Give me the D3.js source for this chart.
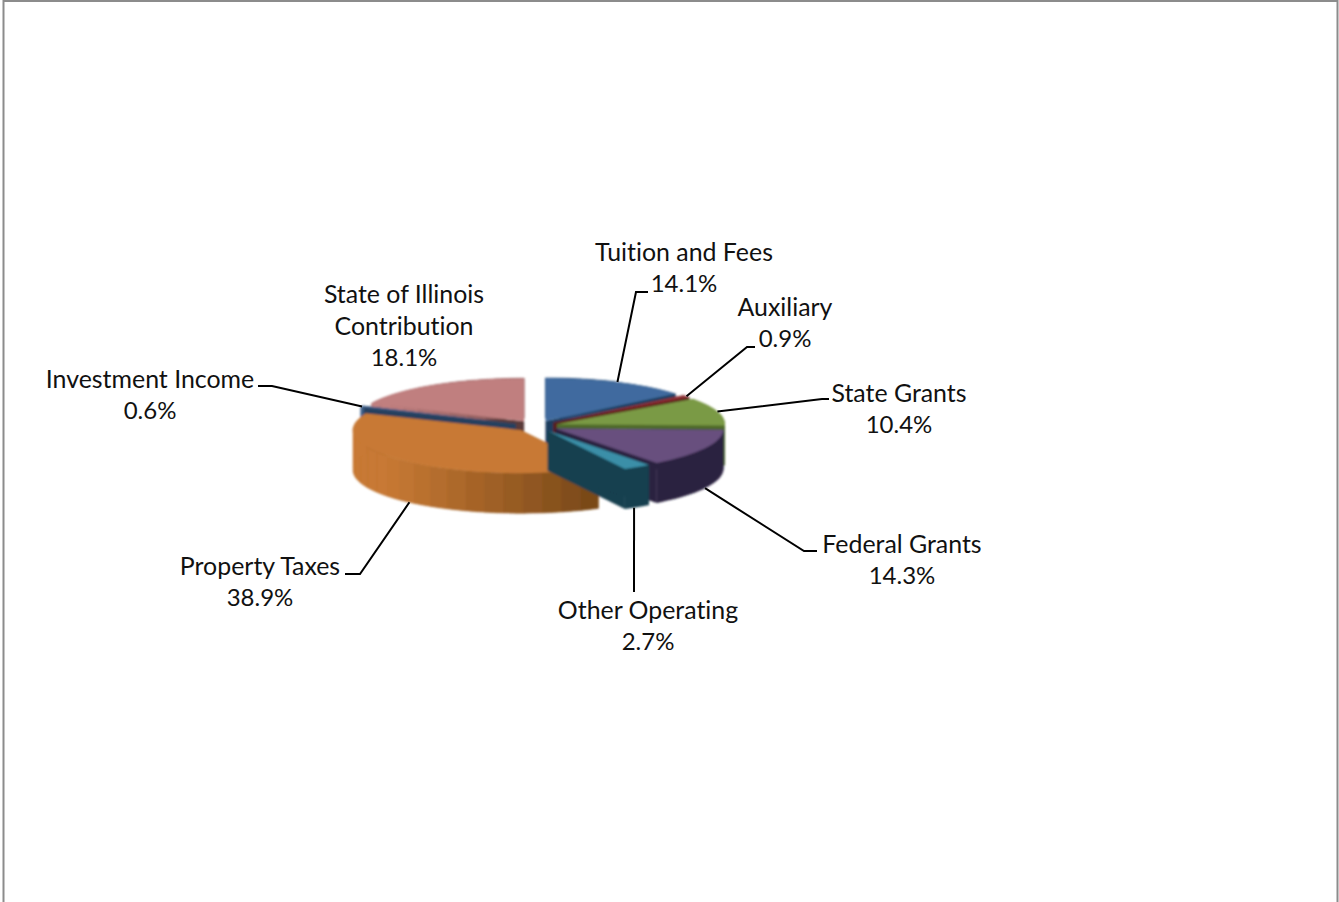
<!DOCTYPE html>
<html>
<head>
<meta charset="utf-8">
<style>
  html, body { margin: 0; padding: 0; background: #fff; overflow: hidden; }
  svg { display: block; }
  text { font-family: Lato, "Open Sans", sans-serif; font-size: 24.9px; fill: #111; font-variant-ligatures: none; }
  text.pct { font-size: 24px; }
</style>
<script src="https://cdn.jsdelivr.net/npm/d3@7"></script>
</head>
<body>
<svg id="chart" width="1339" height="902"></svg>
<script>
// Revenue sources, in percent of the total
const categories = ["Tuition and Fees", "Auxiliary", "State Grants", "Federal Grants",
                    "Other Operating", "Property Taxes", "Investment Income", "State of Illinois Contribution"];
const shares = [14.1, 0.9, 10.4, 14.3, 2.7, 38.9, 0.6, 18.1];
const labelLines = [["Tuition and Fees"], ["Auxiliary"], ["State Grants"], ["Federal Grants"],
                    ["Other Operating"], ["Property Taxes"], ["Investment Income"], ["State of Illinois", "Contribution"]];
const topColors  = ["#3f6b9f", "#8f2f33", "#7a9a45", "#674f7e", "#3a8fa8", "#c87934", "#3d5f8a", "#c07f7f"];
const wallColors = ["#1d3d5f", "#5a1d1d", "#4f6b2a", "#2a2040", "#163f4f", "#774818", "#28405f", "#5a3a3a"];

// Label centres and leader elbows, in page coordinates
const labelCentres = [[684, 252], [785, 307], [899, 393], [902, 544], [648, 610], [260, 566], [150, 379], [404, 294]];
const leaderElbows = [[[636, 292], [648, 292]], [[747, 347], [755, 347]], [[822, 399], [829, 399]],
                      [[804, 551], [817, 551]], [[634, 592]], [[360, 574], [345, 574]], [[272, 386], [258, 386]], null];
// Degrees by which a leader's foot slides along the rim away from the wedge's middle
const leaderFootShift = [0, 0, 0, 0, 1.3, -1, 0, 0];

const svg = d3.select("#chart");
const cx = 536, cy = 426, radius = 168, tilt = 0.256, depth = 40, explode = 22;
const lineHeight = 32;

const defs = svg.append("defs");
defs.append("filter").attr("id", "soft").append("feGaussianBlur").attr("stdDeviation", 0.8);

// Window frame
svg.append("path")
  .attr("d", "M3.5,902V1H1337.5V902")
  .attr("fill", "none").attr("stroke", "#8c8c8c").attr("stroke-width", 2);

const pie = d3.pie().value(d => d).sort(null);
const slices = pie(shares).map((s, i) => {
  const mid = (s.startAngle + s.endAngle) / 2;
  return { ...s, i, mid,
    ox: cx + explode * Math.sin(mid),
    oy: cy - explode * Math.cos(mid) * tilt };
});

const project = (s, angle, r = radius, drop = 0) => [
  s.ox + r * Math.sin(angle),
  s.oy - r * Math.cos(angle) * tilt + drop
];

const polygon = d3.line();
const arc = d3.arc().innerRadius(0).outerRadius(radius);
const lightFromLeft = d3.scaleLinear().domain([-0.8, 0.45]).range([0, 1]).clamp(true);

const pieLayer = svg.append("g").attr("filter", "url(#soft)");

// Paint from the back of the tilted pie towards the front
const paintOrder = slices.slice().sort((a, b) => Math.cos(b.mid) - Math.cos(a.mid));
const bandStep = 7 * Math.PI / 180;

// Closed outline of the rim between two angles
const rimPath = (s, a0, a1) => {
  const steps = d3.range(0, 25).map(j => a0 + (a1 - a0) * j / 24);
  const upper = steps.map(a => project(s, a));
  const lower = steps.map(a => project(s, a, radius, depth)).reverse();
  return polygon(upper.concat(lower)) + "Z";
};

paintOrder.forEach(s => {
  const g = pieLayer.append("g");
  const wall = wallColors[s.i];

  [s.endAngle, s.startAngle].forEach(a => {
    g.append("path")
      .attr("d", polygon([[s.ox, s.oy], project(s, a), project(s, a, radius, depth), [s.ox, s.oy + depth]]) + "Z")
      .attr("fill", wall);
  });

  // Solid rim underneath; lit bands are laid over it only where the shade differs
  g.append("path").attr("d", rimPath(s, s.startAngle, s.endAngle)).attr("fill", wall);

  const bands = Math.max(1, Math.ceil((s.endAngle - s.startAngle) / bandStep));
  d3.range(bands).forEach(k => {
    const a0 = s.startAngle + (s.endAngle - s.startAngle) * k / bands;
    const a1 = s.startAngle + (s.endAngle - s.startAngle) * (k + 1) / bands;
    const shade = lightFromLeft(Math.sin((a0 + a1) / 2));
    if (shade >= 1) return;
    const fill = d3.interpolateRgb(topColors[s.i], wall)(shade);
    g.append("path").attr("d", rimPath(s, a0, a1))
      .attr("fill", fill).attr("stroke", fill).attr("stroke-width", 0.6);
  });

  // Top face: a d3 arc flattened by the tilt
  g.append("path")
    .attr("transform", `translate(${s.ox},${s.oy}) scale(1,${tilt})`)
    .attr("d", arc(s))
    .attr("fill", topColors[s.i]);
});

// Leader lines run from each wedge's rim to its label
const leaderLayer = svg.append("g");
slices.forEach(s => {
  const elbows = leaderElbows[s.i];
  if (!elbows) return;
  const front = Math.cos(s.mid) < 0;
  const foot = s.mid + leaderFootShift[s.i] * Math.PI / 180;
  const start = project(s, foot, radius, front ? depth : 0);
  leaderLayer.append("path")
    .attr("d", d3.line()([start, ...elbows]))
    .attr("fill", "none").attr("stroke", "#000").attr("stroke-width", 2);
});

// Category name and percentage
const pct = d3.format(".1f");
const labels = svg.append("g").attr("text-anchor", "middle");
slices.forEach(s => {
  const [lx, ly] = labelCentres[s.i];
  labelLines[s.i].forEach((row, r) => {
    labels.append("text")
      .attr("x", lx).attr("y", ly + r * lineHeight)
      .attr("dy", "0.35em")
      .text(row);
  });
  labels.append("text")
    .attr("class", "pct")
    .attr("x", lx).attr("y", ly + labelLines[s.i].length * lineHeight)
    .attr("dy", "0.35em")
    .text(pct(s.value) + "%");
});
</script>
</body>
</html>
